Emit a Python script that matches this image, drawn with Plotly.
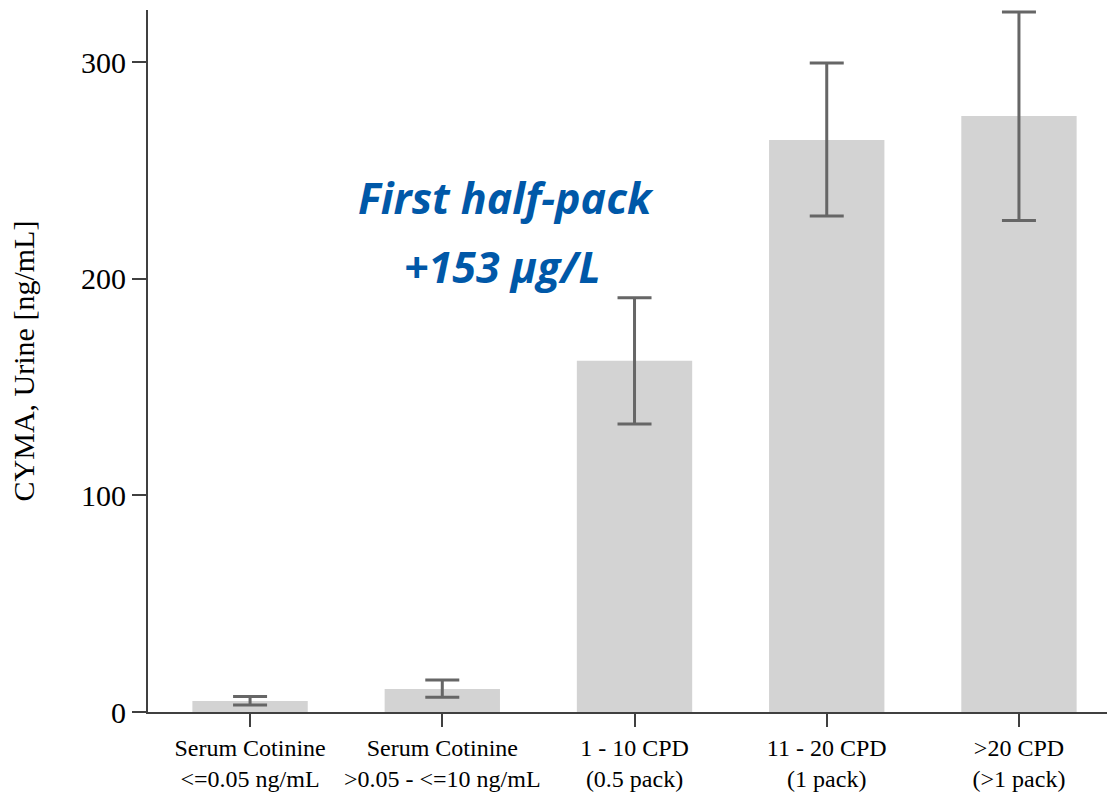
import plotly.graph_objects as go

categories = [
    "Serum Cotinine<br>&lt;=0.05 ng/mL",
    "Serum Cotinine<br>&gt;0.05 - &lt;=10 ng/mL",
    "1 - 10 CPD<br>(0.5 pack)",
    "11 - 20 CPD<br>(1 pack)",
    "&gt;20 CPD<br>(&gt;1 pack)",
]
means = [5.1, 10.6, 162.1, 264.0, 275.1]
upper = [7.1, 14.8, 191.2, 299.5, 323.1]
lower = [3.2, 6.8, 132.9, 228.9, 226.8]
y_ticks = [0, 100, 200, 300]

err_plus = [u - m for u, m in zip(upper, means)]
err_minus = [m - l for m, l in zip(means, lower)]
xpos = list(range(len(categories)))

fig = go.Figure()
fig.add_trace(go.Bar(
    x=xpos, y=means,
    marker=dict(color="#d3d3d3", line=dict(width=0)),
    error_y=dict(type="data", symmetric=False, array=err_plus, arrayminus=err_minus,
                 color="#666666", thickness=3, width=17),
    width=0.6,
))

axis_color = "#404040"
fig.update_layout(
    width=1107, height=792,
    margin=dict(l=148, r=0, t=10, b=80),
    plot_bgcolor="white", paper_bgcolor="white",
    showlegend=False,
    font=dict(family="Liberation Serif", color="black"),
    xaxis=dict(
        range=[-0.531, 4.458],
        tickmode="array", tickvals=xpos, ticktext=categories,
        showline=True, linecolor=axis_color, linewidth=2,
        ticks="outside", ticklen=13, tickwidth=2, tickcolor=axis_color,
        tickfont=dict(family="Liberation Serif", size=24, color="black"),
        showgrid=False, zeroline=False,
    ),
    yaxis=dict(
        range=[0, 324],
        tickmode="array", tickvals=y_ticks, ticktext=[str(v) for v in y_ticks],
        showline=True, linecolor=axis_color, linewidth=2,
        ticks="outside", ticklen=14, tickwidth=2, tickcolor=axis_color,
        tickfont=dict(family="Liberation Serif", size=30, color="black"),
        showgrid=False, zeroline=False,
        title=dict(text="CYMA, Urine [ng/mL]", font=dict(family="Liberation Serif", size=30, color="black"),
                   standoff=38),
    ),
)

fig.add_annotation(x=1.333, y=237.5, xref="x", yref="y", text="<b><i>First half-pack</i></b>",
                   showarrow=False, font=dict(family="Open Sans", size=43, color="#0058A8"))
fig.add_annotation(x=1.313, y=205.5, xref="x", yref="y", text="<b><i>+153 µg/L</i></b>",
                   showarrow=False, font=dict(family="Open Sans", size=43, color="#0058A8"))

fig.write_html("out.html")
